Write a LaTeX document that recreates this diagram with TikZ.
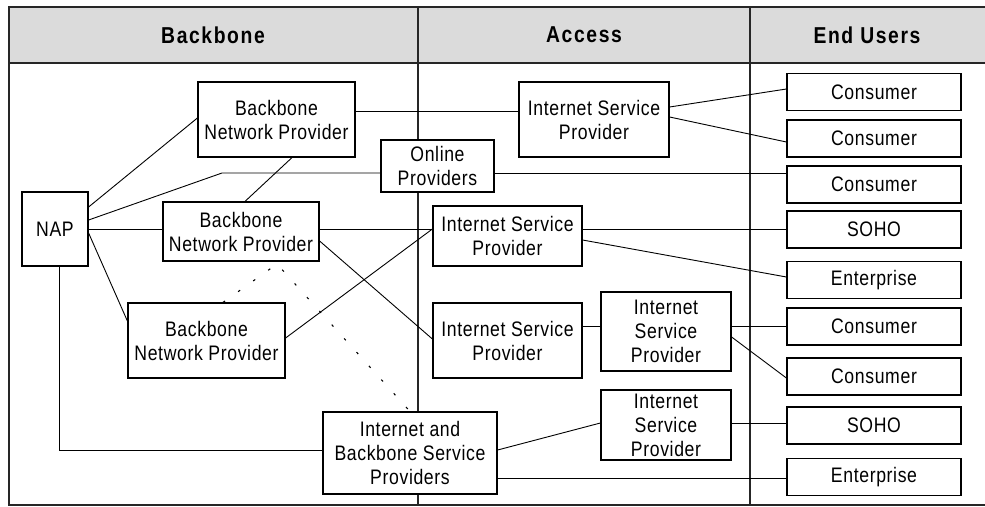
\documentclass[tikz,border=0pt]{standalone}
\usepackage{fontspec}
\setmainfont{Liberation Sans}[FakeStretch=0.84,LetterSpace=3]
\newfontfamily\headfont{Liberation Sans}[FakeStretch=0.84,LetterSpace=7]
\begin{document}
\begin{tikzpicture}[x=1pt,y=-1pt,
  box/.style={draw=black,line width=1.2pt,fill=white,align=center,inner sep=0pt,
    font=\fontsize{21}{24}\selectfont},
  euser/.style={box,minimum width=174pt,minimum height=37pt},
  conn/.style={draw=black,line width=0.9pt},
  dotconn/.style={draw=black,line width=1.1pt,dash pattern=on 2.5pt off 16pt},
  frameline/.style={draw=black!85,line width=1.2pt},
  head/.style={font=\headfont\fontsize{23}{26}\selectfont\bfseries}]
\useasboundingbox (0,0) rectangle (985,506);
\clip (0,0) rectangle (985,506);
% frame and header
\fill[black!14] (9,7) rectangle (995,63);
\draw[frameline] (995,7) -- (9,7) -- (9,505) -- (995,505);
\draw[frameline] (9,63) -- (995,63);
\draw[frameline] (418,7) -- (418,505);
\draw[frameline] (750,7) -- (750,505);
\node[head] (hb) at (213,35) {Backbone};
\node[head] (ha) at (584,35) {Access};
\node[head] (he) at (867,35) {End Users};
% nodes
\node[box,minimum width=66pt,minimum height=74pt] (nap) at (55,229) {NAP};
\node[box,minimum width=157pt,minimum height=75pt] (bnp1) at (276.5,119.5) {Backbone\\Network Provider};
\node[box,minimum width=113pt,minimum height=52pt] (online) at (437.5,166) {Online\\Providers};
\node[box,minimum width=156pt,minimum height=59pt] (bnp2) at (241,231.5) {Backbone\\Network Provider};
\node[box,minimum width=157pt,minimum height=75pt] (bnp3) at (206.5,340.5) {Backbone\\Network Provider};
\node[box,minimum width=174pt,minimum height=82pt] (ibsp) at (410,453) {Internet and\\Backbone Service\\Providers};
\node[box,minimum width=150pt,minimum height=75pt] (isp1) at (594,119.5) {Internet Service\\Provider};
\node[box,minimum width=149pt,minimum height=60pt] (isp2) at (507.5,236) {Internet Service\\Provider};
\node[box,minimum width=149pt,minimum height=75pt] (isp3) at (507.5,340.5) {Internet Service\\Provider};
\node[box,minimum width=130pt,minimum height=79pt] (isp4) at (666,331.5) {Internet\\Service\\Provider};
\node[box,minimum width=130pt,minimum height=70pt] (isp5) at (666,425) {Internet\\Service\\Provider};
\node[euser] (c1) at (874,92) {Consumer};
\node[euser] (c2) at (874,138.5) {Consumer};
\node[euser] (c3) at (874,184.5) {Consumer};
\node[euser] (s1) at (874,229.5) {SOHO};
\node[euser] (e1) at (874,280) {Enterprise};
\node[euser] (c4) at (874,326.5) {Consumer};
\node[euser] (c5) at (874,376.5) {Consumer};
\node[euser] (s2) at (874,425.5) {SOHO};
\node[euser] (e2) at (874,477) {Enterprise};
% helper coordinates
\coordinate (bendonline) at (222,173);
\coordinate (apex) at (277,264);
% connectors
\draw[conn] (nap.east |- 0,207) -- (bnp1.west |- 0,118);
\draw[conn] (nap.east |- 0,220) -- (bendonline) -- (online.west |- 0,173);
\draw[conn] (nap.east |- 0,229) -- (bnp2.west |- 0,229);
\draw[conn] (nap.east |- 0,233) -- (bnp3.west |- 0,321);
\draw[conn] (nap.south -| 59,0) |- (ibsp.west |- 0,450);
\draw[conn] (bnp1.east |- 0,111) -- (isp1.west |- 0,111);
\draw[conn] (bnp1.south -| 292,0) -- (bnp2.north -| 245,0);
\draw[conn] (online.east |- 0,173) -- (c3.west |- 0,173);
\draw[conn] (bnp2.east |- 0,229) -- (isp2.west |- 0,229);
\draw[conn] (bnp3.east |- 0,338) -- (isp2.west |- 0,229);
\draw[conn] (bnp2.east |- 0,241) -- (isp3.west |- 0,339);
\draw[conn] (isp1.east |- 0,107) -- (c1.west |- 0,89);
\draw[conn] (isp1.east |- 0,117) -- (c2.west |- 0,142);
\draw[conn] (isp2.east |- 0,229) -- (s1.west |- 0,229);
\draw[conn] (isp2.east |- 0,240) -- (e1.west |- 0,277);
\draw[conn] (isp3.east |- 0,326) -- (isp4.west |- 0,326);
\draw[conn] (isp4.east |- 0,326) -- (c4.west |- 0,326);
\draw[conn] (isp4.east |- 0,337) -- (c5.west |- 0,378);
\draw[conn] (ibsp.east |- 0,450) -- (isp5.west |- 0,423);
\draw[conn] (isp5.east |- 0,423) -- (s2.west |- 0,423);
\draw[conn] (ibsp.east |- 0,478) -- (e2.west |- 0,478);
\draw[dotconn] (bnp3.north -| 223,0) -- (apex) -- (ibsp.north -| 410,0);
\end{tikzpicture}
\end{document}
